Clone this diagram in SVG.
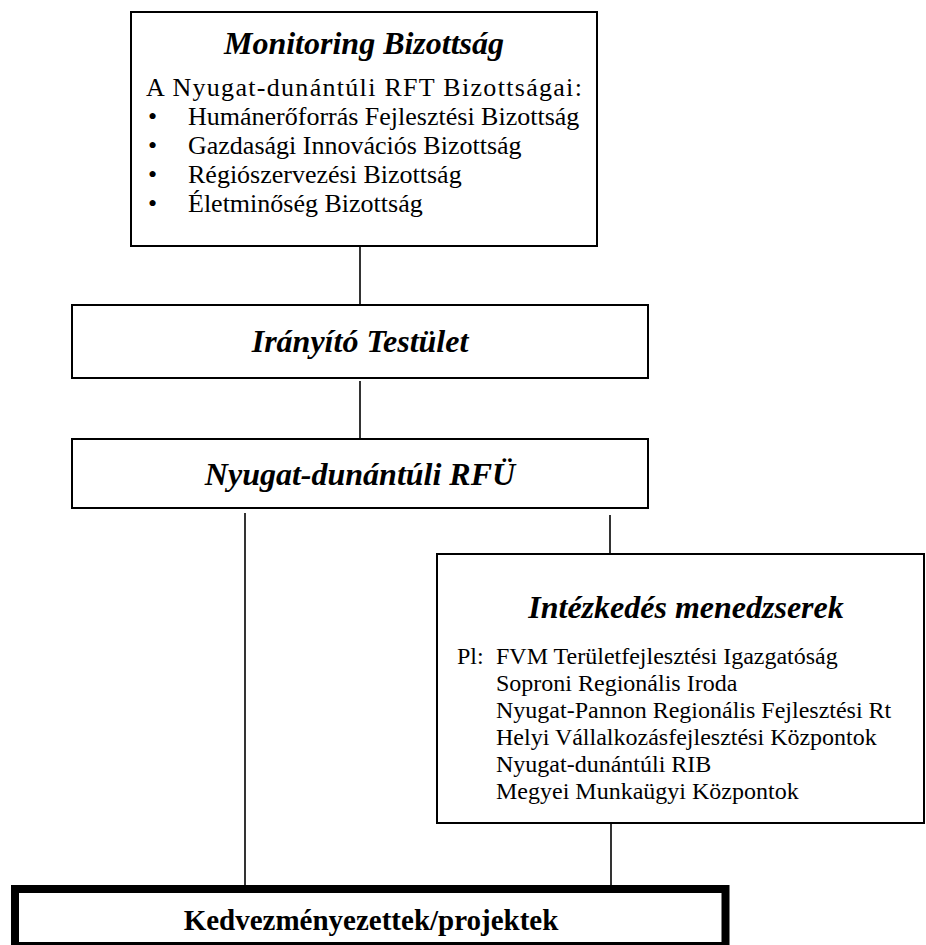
<svg xmlns="http://www.w3.org/2000/svg" width="926" height="945" viewBox="0 0 926 945">
<style>
.box{fill:#fff;stroke:#000;stroke-width:2}
.thick{fill:#fff;stroke:#000;stroke-width:8}
.ttl{font-family:"Liberation Serif","Times New Roman",serif;font-weight:bold;font-style:italic;font-size:32px;text-anchor:middle;fill:#000}
.txt{font-family:"Liberation Serif","Times New Roman",serif;font-size:26px;fill:#000}
.txt2{font-family:"Liberation Serif","Times New Roman",serif;font-size:24px;fill:#000}
.bold{font-family:"Liberation Serif","Times New Roman",serif;font-weight:bold;font-size:29px;text-anchor:middle;fill:#000}
.con{stroke:#000;stroke-width:1.6;fill:none}
</style>
<rect width="926" height="945" fill="#fff"/>
<g id="connectors">
<line class="con" x1="360" y1="246" x2="360" y2="305"/>
<line class="con" x1="360" y1="381" x2="360" y2="439"/>
<line class="con" x1="610" y1="515" x2="610" y2="554"/>
<line class="con" x1="245" y1="513" x2="245" y2="885"/>
<line class="con" x1="611" y1="823" x2="611" y2="885"/>
</g>
<g id="monitoring">
<rect class="box" x="131" y="12" width="466" height="234"/>
<text class="ttl" x="364" y="54">Monitoring Bizottság</text>
<text class="txt" x="146" y="96" letter-spacing="1.3">A Nyugat-dunántúli RFT Bizottságai:</text>
<g class="txt">
<text x="148" y="125">•</text><text x="188" y="125">Humánerőforrás Fejlesztési Bizottság</text>
<text x="148" y="154">•</text><text x="188" y="154">Gazdasági Innovációs Bizottság</text>
<text x="148" y="183">•</text><text x="188" y="183">Régiószervezési Bizottság</text>
<text x="148" y="212">•</text><text x="188" y="212">Életminőség Bizottság</text>
</g>
</g>
<g id="iranyito">
<rect class="box" x="72" y="305" width="576" height="73"/>
<text class="ttl" x="360" y="352">Irányító Testület</text>
</g>
<g id="rfu">
<rect class="box" x="72" y="439" width="576" height="69"/>
<text class="ttl" x="360" y="485">Nyugat-dunántúli RFÜ</text>
</g>
<g id="intezkedes">
<rect class="box" x="437" y="554" width="487" height="269"/>
<text class="ttl" x="686" y="618">Intézkedés menedzserek</text>
<g class="txt2">
<text x="457" y="664">Pl:</text><text x="496" y="664">FVM Területfejlesztési Igazgatóság</text>
<text x="496" y="691">Soproni Regionális Iroda</text>
<text x="496" y="718">Nyugat-Pannon Regionális Fejlesztési Rt</text>
<text x="496" y="745">Helyi Vállalkozásfejlesztési Központok</text>
<text x="496" y="772">Nyugat-dunántúli RIB</text>
<text x="496" y="799">Megyei Munkaügyi Központok</text>
</g>
</g>
<g id="kedvezmenyezettek">
<rect class="thick" x="15" y="889" width="710.5" height="57"/>
<text class="bold" x="371" y="930">Kedvezményezettek/projektek</text>
</g>
</svg>
